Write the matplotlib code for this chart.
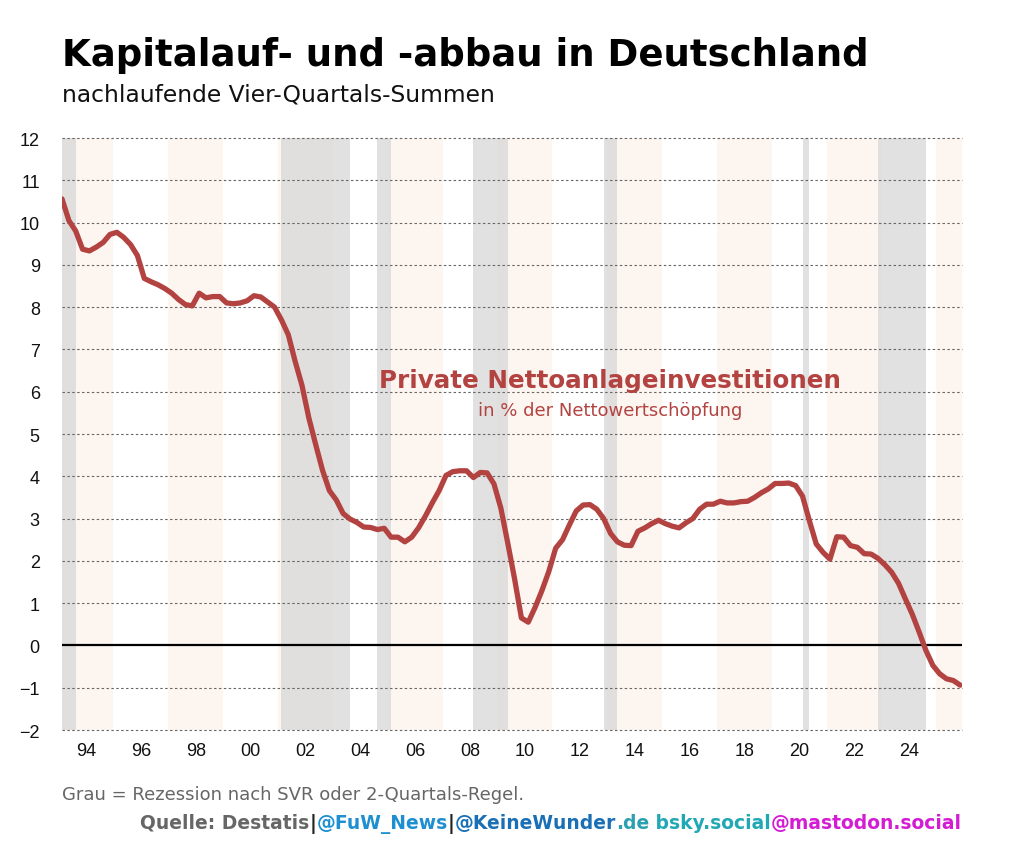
#!/usr/bin/env python3
"""Kapitalauf- und -abbau in Deutschland: private Nettoanlageinvestitionen."""

import numpy as np
import matplotlib
matplotlib.use("Agg")
import matplotlib.pyplot as plt

# quarterly values, starting 1993 Q1
START_YEAR = 1993
VALUES = [
    10.56, 10.05, 9.80, 9.37, 9.33, 9.42, 9.53, 9.72, 9.77, 9.65,
    9.48, 9.22, 8.68, 8.60, 8.53, 8.44, 8.33, 8.18, 8.06, 8.03,
    8.33, 8.22, 8.25, 8.25, 8.10, 8.08, 8.10, 8.15, 8.27, 8.24,
    8.12, 8.00, 7.70, 7.35, 6.72, 6.15, 5.38, 4.75, 4.14, 3.66,
    3.44, 3.12, 2.99, 2.91, 2.80, 2.79, 2.74, 2.77, 2.56, 2.56,
    2.45, 2.56, 2.78, 3.06, 3.37, 3.66, 4.02, 4.11, 4.13, 4.13,
    3.97, 4.09, 4.08, 3.82, 3.25, 2.43, 1.58, 0.65, 0.55, 0.90,
    1.30, 1.75, 2.30, 2.50, 2.85, 3.18, 3.32, 3.33, 3.22, 3.00,
    2.65, 2.45, 2.37, 2.36, 2.70, 2.78, 2.88, 2.96, 2.88, 2.82,
    2.78, 2.90, 3.00, 3.22, 3.34, 3.34, 3.41, 3.37, 3.37, 3.40,
    3.41, 3.50, 3.61, 3.70, 3.83, 3.83, 3.84, 3.78, 3.53, 2.95,
    2.40, 2.20, 2.04, 2.57, 2.56, 2.36, 2.32, 2.17, 2.16, 2.06,
    1.91, 1.73, 1.47, 1.10, 0.74, 0.32, -0.12, -0.47, -0.67, -0.79,
    -0.83, -0.94,
]

# recession periods (grey), fractional years
RECESSIONS = [
    (1993.0, 1993.625),
    (2001.125, 2003.625),
    (2004.625, 2005.125),
    (2008.125, 2009.375),
    (2012.875, 2013.375),
    (2020.125, 2020.375),
    (2022.875, 2024.625),
]

# alternating background bands (two years each)
BAND_STARTS = list(range(1993, 2027, 4))

TICK_YEARS = list(range(1994, 2025, 2))
TICK_LABELS = [f"{y % 100:02d}" for y in TICK_YEARS]
Y_TICKS = list(range(-2, 13))

LINE_COLOR = "#b24341"


def main():
    values = np.array(VALUES)
    quarters = np.arange(len(values))
    xs = START_YEAR + 0.125 + quarters / 4.0

    fig = plt.figure(figsize=(10.24, 8.53), dpi=100)
    ax = fig.add_axes([62 / 1024, 1 - 731 / 853, 900 / 1024, 592 / 853])

    x_min, x_max = 1993.125, 2025.94
    for start in BAND_STARTS:
        ax.axvspan(start, start + 2, color="#fdf5f0", lw=0, zorder=0)
    for start, end in RECESSIONS:
        ax.axvspan(start, end, color="#dadada", alpha=0.8, lw=0, zorder=0.5)

    for y in Y_TICKS:
        if y == 0:
            continue
        ax.axhline(y, color="#666666", lw=0.8, ls=(0, (2.2, 2.2)), zorder=1,
                   clip_on=False)
    ax.axhline(0, color="black", lw=1.6, zorder=2)

    ax.plot(xs, values, color=LINE_COLOR, lw=3.8, solid_joinstyle="round",
            solid_capstyle="round", zorder=3)

    ax.set_xlim(x_min, x_max)
    ax.set_ylim(-2, 12)
    ax.set_xticks(TICK_YEARS)
    ax.set_xticklabels(TICK_LABELS)
    ax.set_yticks(Y_TICKS)
    ax.set_yticklabels([str(y).replace("-", "\u2212") for y in Y_TICKS])
    for spine in ax.spines.values():
        spine.set_visible(False)
    ax.tick_params(axis="both", length=0, labelsize=13, labelcolor="#111111")
    ax.tick_params(axis="x", pad=9)
    ax.tick_params(axis="y", pad=16)
    for label in ax.get_xticklabels() + ax.get_yticklabels():
        label.set_fontfamily("Liberation Sans")

    ax.text(0.609, 0.592, "Private Nettoanlageinvestitionen", transform=ax.transAxes,
            ha="center", va="center", fontsize=17.7, fontweight="bold", color=LINE_COLOR)
    ax.text(0.609, 0.540, "in % der Nettowertschöpfung", transform=ax.transAxes,
            ha="center", va="center", fontsize=13, color=LINE_COLOR)

    fig.text(62 / 1024, 1 - 56 / 853, "Kapitalauf- und -abbau in Deutschland",
             ha="left", va="center", fontsize=26.7, fontweight="bold", color="black")
    fig.text(62 / 1024, 1 - 95 / 853, "nachlaufende Vier-Quartals-Summen",
             ha="left", va="center", fontsize=16.8, color="#111111")

    fig.text(62 / 1024, 1 - 800 / 853, "Grau = Rezession nach SVR oder 2-Quartals-Regel.",
             ha="left", va="baseline", fontsize=13, color="#666666")

    # source line, multi-coloured, right aligned at the plot edge
    pieces = [
        ("Quelle: Destatis", "#666666"),
        ("|", "#222222"),
        ("@FuW_News", "#1e8fd0"),
        ("|", "#222222"),
        ("@KeineWunder", "#1a6fb5"),
        (".de", "#2aa0b0"),
        (" bsky.social", "#20a8b5"),
        ("@mastodon.social", "#d41cd4"),
    ]
    renderer = fig.canvas.get_renderer()
    right = 962
    y_src = 1 - 829 / 853
    for text, color in reversed(pieces):
        t = fig.text(right / 1024, y_src, text, ha="right", va="baseline",
                     fontsize=13.5, fontweight="bold", color=color)
        bbox = t.get_window_extent(renderer=renderer)
        right = bbox.x0

    fig.savefig("out.png", dpi=100, facecolor="white")
    plt.close(fig)


if __name__ == "__main__":
    main()
